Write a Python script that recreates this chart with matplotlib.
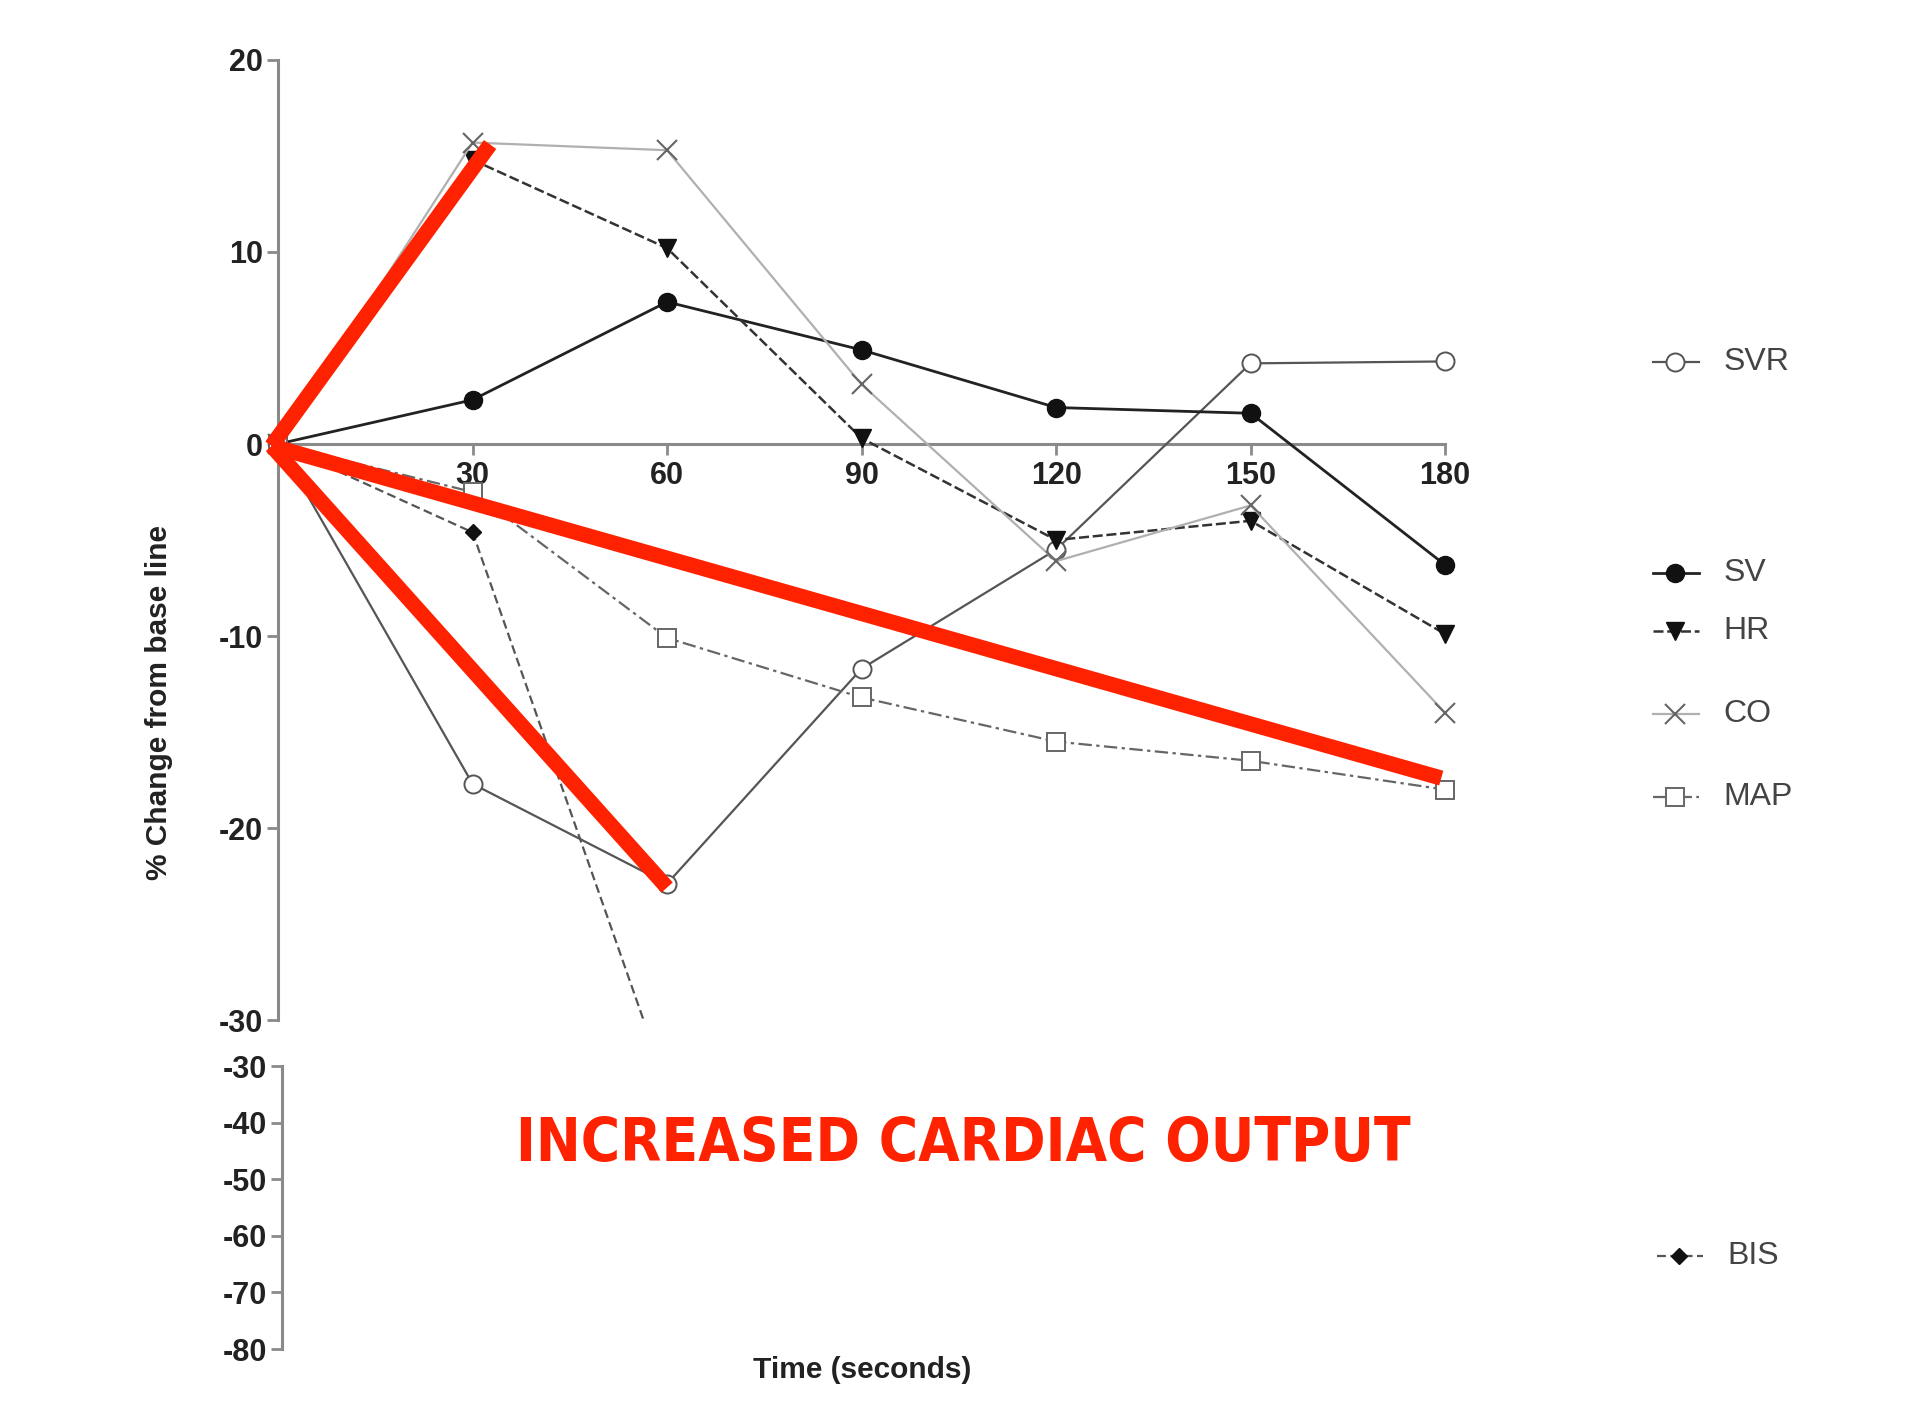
import numpy as np
import matplotlib.pyplot as plt
from matplotlib import font_manager

plt.rcParams['font.family'] = ['Liberation Sans', 'DejaVu Sans']

# данные: % изменения от исходного уровня
time_s = [0, 30, 60, 90, 120, 150, 180]
svr = [0, -17.7, -22.9, -11.7, -5.5, 4.2, 4.3]
sv = [0, 2.3, 7.4, 4.9, 1.9, 1.6, -6.3]
hr = [0, 14.8, 10.2, 0.3, -5.0, -4.0, -9.9]
co = [0, 15.7, 15.3, 3.1, -6.1, -3.2, -14.0]
map_ = [0, -2.5, -10.1, -13.2, -15.5, -16.5, -18.0]
bis_t = [0, 30, 60]
bis = [0, -4.6, -33.5]

# красные линии поверх графика
red_x = [[-1, 32.7], [-1, 179.4], [-1, 60]]
red_y = [[-0.1, 15.6], [-0.1, -17.4], [-0.1, -23.1]]

upper_ticks = [20, 10, 0, -10, -20, -30]
lower_ticks = [-30, -40, -50, -60, -70, -80]
x_ticks = [30, 60, 90, 120, 150, 180]

fig = plt.figure(figsize=(19.23, 14.25), dpi=100)
ax = fig.add_axes([0.1446, 0.2842, 0.6069, 0.6737])
ax2 = fig.add_axes([0.1467, 0.0533, 0.6069, 0.1986])

axis_col = '#8a8a8a'
tick_font = dict(fontsize=22, fontweight='bold', color='#222222')

series = [
    ('SVR', time_s, svr, dict(color='#555555', ls='-', lw=1.6, marker='o', ms=13, mfc='white', mec='#555555', mew=1.4)),
    ('SV', time_s, sv, dict(color='#222222', ls='-', lw=2.0, marker='o', ms=13, mfc='#111111', mec='#111111')),
    ('HR', time_s, hr, dict(color='#333333', ls=(0, (4, 1.5)), lw=1.8, marker='v', ms=13, mfc='#111111', mec='#111111')),
    ('CO', time_s, co, dict(color='#b0b0b0', ls='-', lw=1.6, marker='x', ms=15, mec='#666666', mew=1.5)),
    ('MAP', time_s, map_, dict(color='#666666', ls=(0, (6, 2, 1.5, 2)), lw=1.6, marker='s', ms=13, mfc='white', mec='#666666', mew=1.4)),
]

for name, x, y, st in series:
    ax.plot(x, y, clip_on=False, zorder=3, **st)

bis_style = dict(color='#555555', ls=(0, (4, 2)), lw=1.6, marker='D', ms=8, mfc='#111111', mec='#111111')
ax.plot(bis_t, bis, clip_on=True, zorder=3, **bis_style)

for rx, ry in zip(red_x, red_y):
    ax.plot(rx, ry, color='#ff2200', lw=11, solid_capstyle='butt', clip_on=False, zorder=5)

ax.set_xlim(0, 180)
ax.set_ylim(-30, 20)
ax.spines['top'].set_visible(False)
ax.spines['right'].set_visible(False)
ax.spines['bottom'].set_position(('data', 0))
for s in ['left', 'bottom']:
    ax.spines[s].set_color(axis_col)
    ax.spines[s].set_linewidth(2.2)
ax.set_xticks(x_ticks)
ax.set_yticks(upper_ticks)
ax.set_xticklabels([str(t) for t in x_ticks], **tick_font)
ax.set_yticklabels([str(t) for t in upper_ticks], **tick_font)
ax.tick_params(axis='both', direction='out', length=8, width=2, color=axis_col)
ax.tick_params(axis='x', pad=4)
ax.tick_params(axis='y', pad=3)
ax.set_ylabel('% Change from base line', fontsize=21.5, fontweight='bold', color='#222222')
ax.yaxis.set_label_coords(-0.09, 0.331)

# нижняя шкала (разрыв оси)
ax2.set_xlim(0, 180)
ax2.set_ylim(-80, -30)
for s in ['top', 'right', 'bottom']:
    ax2.spines[s].set_visible(False)
ax2.spines['left'].set_color(axis_col)
ax2.spines['left'].set_linewidth(2.2)
ax2.set_xticks([])
ax2.set_yticks(lower_ticks)
ax2.set_yticklabels([str(t) for t in lower_ticks], **tick_font)
ax2.tick_params(axis='y', direction='out', length=8, width=2, color=axis_col, pad=3)
ax2.patch.set_alpha(0)

fig.text(0.4482, 0.0385, 'Time (seconds)', ha='center', va='center',
         fontsize=21.5, fontweight='bold', color='#222222')

# подписи-легенда справа
legend_y = [4.26, -6.74, -9.73, -14.05, -18.37]
for (name, x, y, st), ly in zip(series, legend_y):
    ax.plot([212.1, 219.2], [ly, ly], clip_on=False, **st, markevery=[])
    st2 = {k: v for k, v in st.items() if k not in ('ls', 'lw', 'color')}
    ax.plot([215.5], [ly], ls='none', clip_on=False, **st2)
    ax.text(222.9, ly, name, fontsize=23, color='#444444', va='center', ha='left')

ax2.plot([212.1, 219.2], [-63.5, -63.5], clip_on=False, **bis_style, markevery=[])
st2 = {k: v for k, v in bis_style.items() if k not in ('ls', 'lw', 'color')}
ax2.plot([215.5], [-63.5], ls='none', clip_on=False, **st2)
ax2.text(222.9, -63.5, 'BIS', fontsize=23, color='#444444', va='center', ha='left')

# узкий жирный шрифт, если есть
fp = font_manager.FontProperties(family='DejaVu Sans', stretch='condensed', weight='bold')
fpath = font_manager.findfont(fp)
if 'Condensed' in fpath:
    title_font = dict(family='DejaVu Sans', fontstretch='condensed')
else:
    title_font = dict(family='Liberation Sans')
fig.text(0.5008, 0.197, 'INCREASED CARDIAC OUTPUT', ha='center', va='center',
         fontsize=43, fontweight='bold', color='#ff2200', **title_font)

fig.savefig('out.png', dpi=100, facecolor='white')
